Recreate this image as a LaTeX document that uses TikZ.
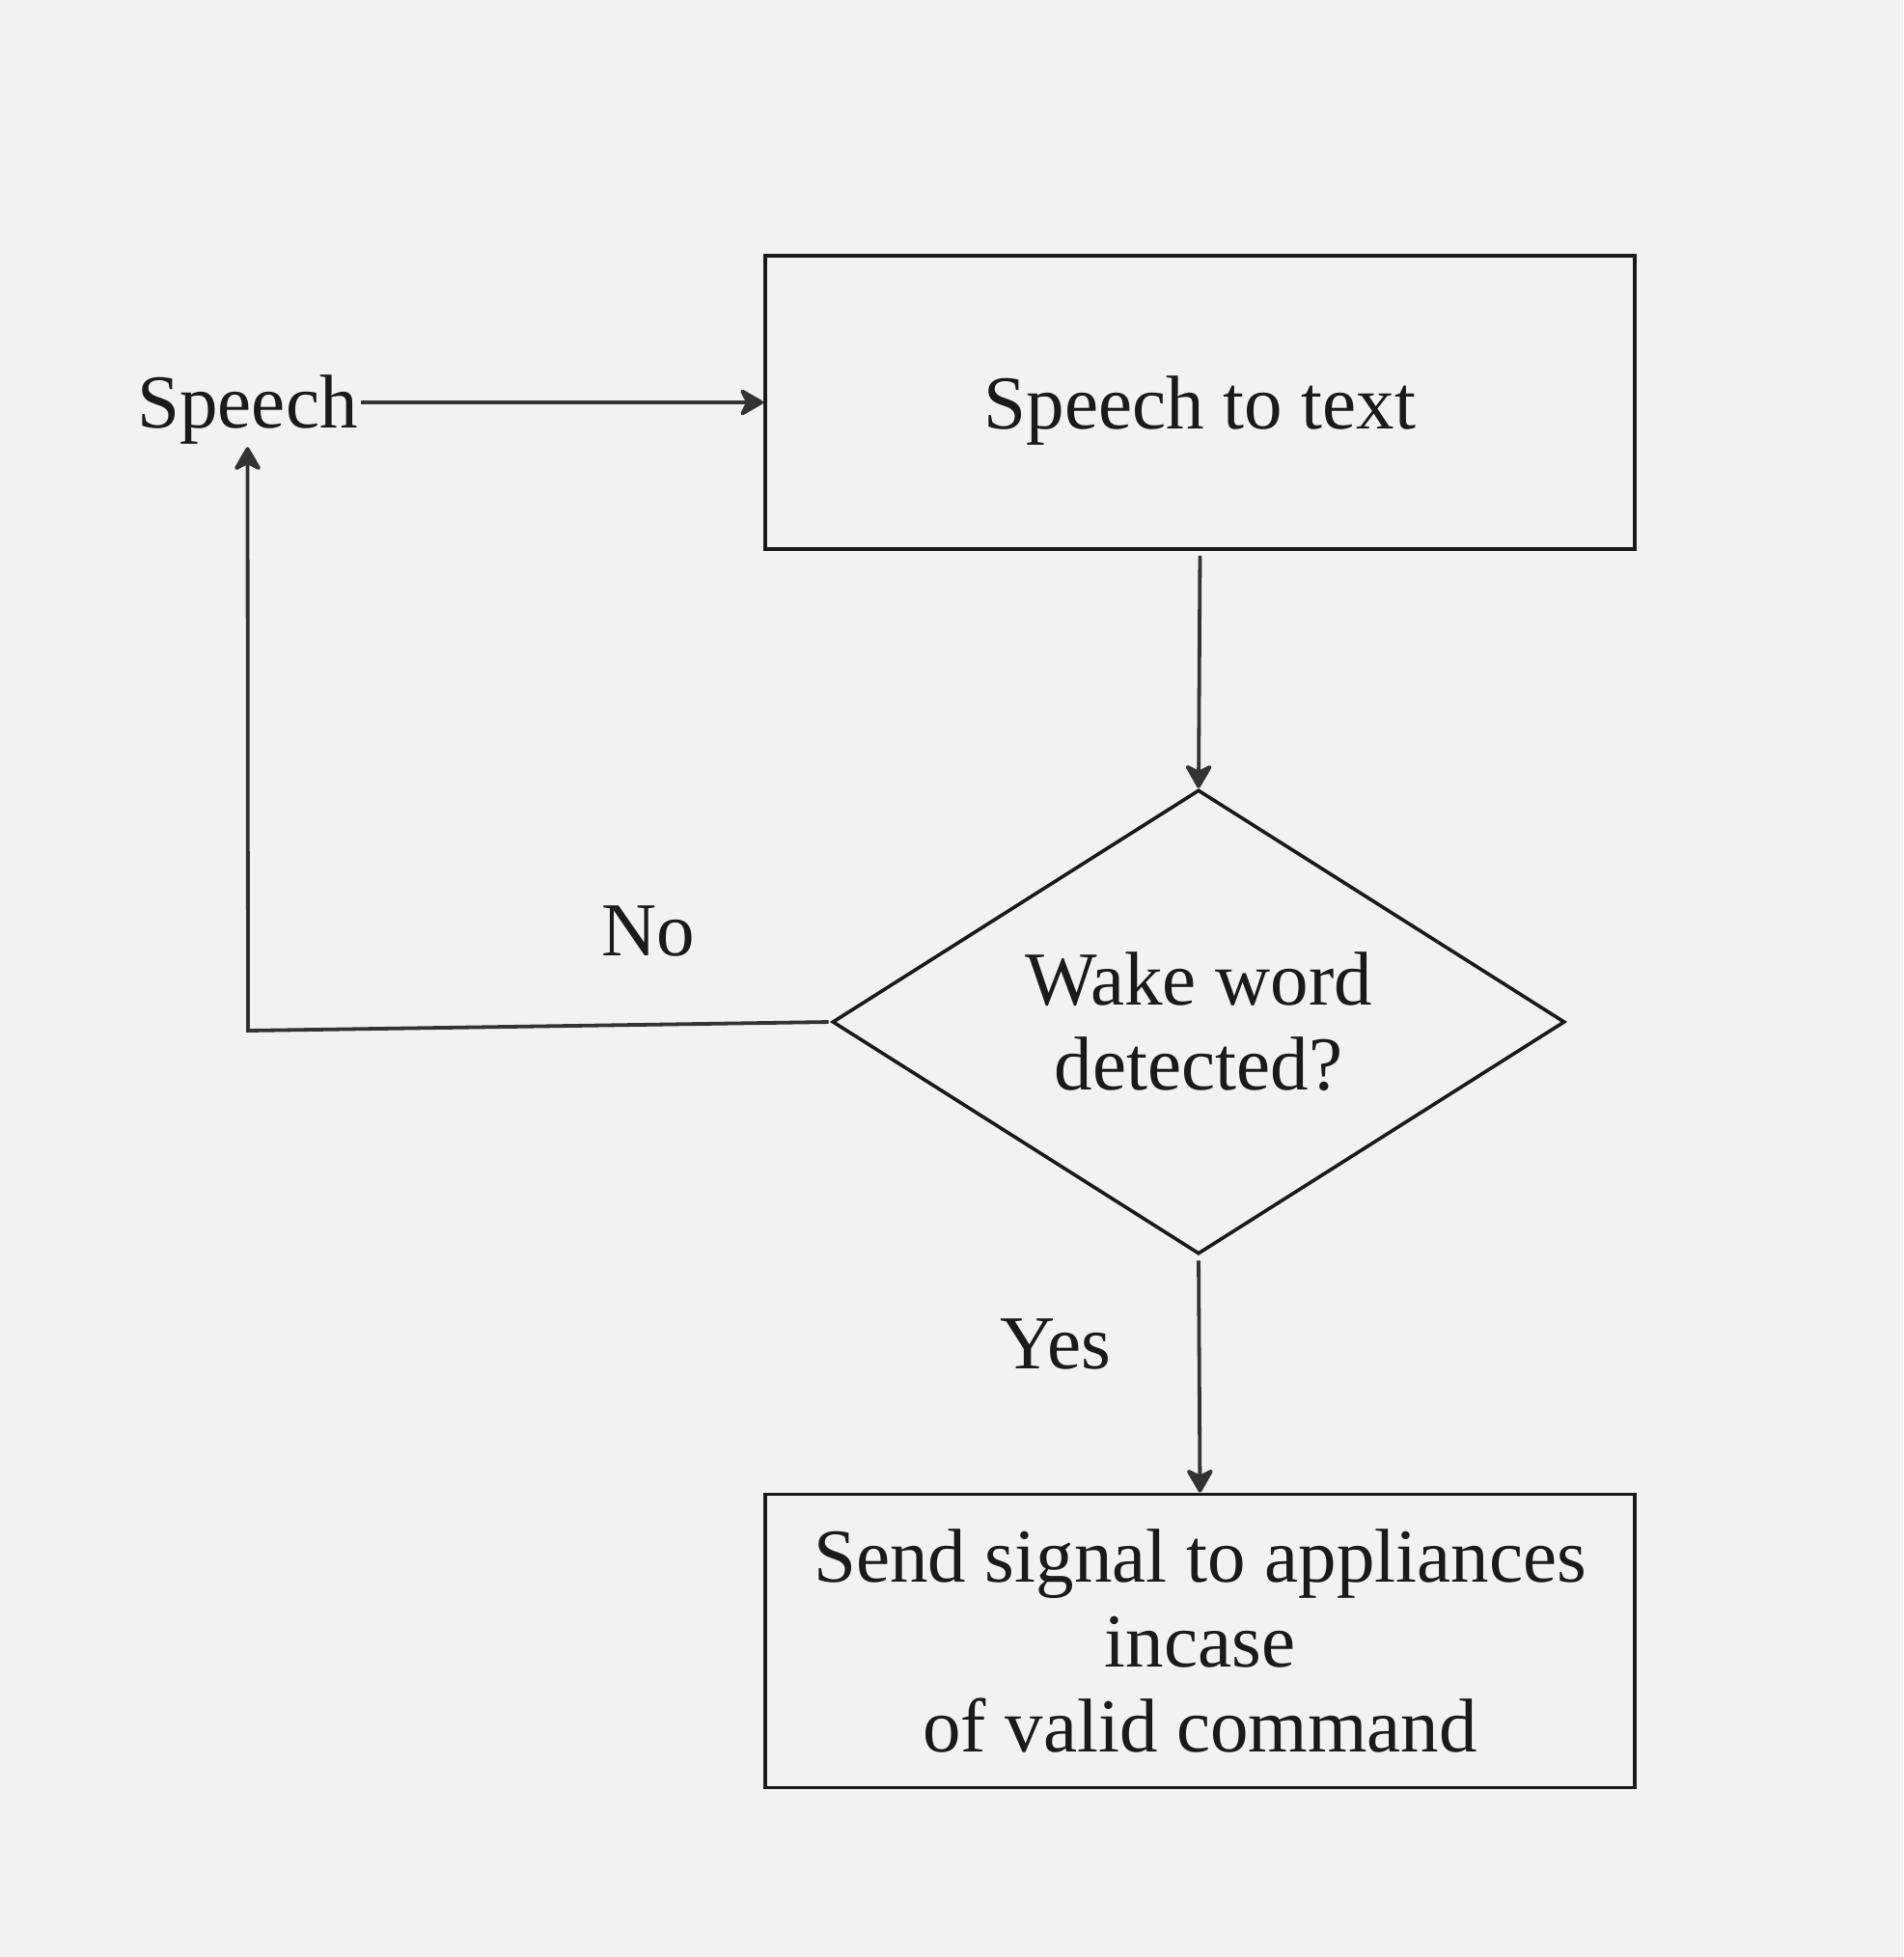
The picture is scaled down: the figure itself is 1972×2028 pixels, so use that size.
\documentclass[tikz,border=0pt]{standalone}
\usepackage{fontspec}
\setmainfont{Liberation Serif}
\usetikzlibrary{shapes.geometric,arrows.meta}
\definecolor{bg}{HTML}{F2F2F2}
\definecolor{boxline}{HTML}{1A1A1A}
\definecolor{arrline}{HTML}{333333}
\definecolor{txt}{HTML}{1A1A1A}
\tikzset{
  lbl/.style={font=\fontsize{39.5pt}{44pt}\selectfont, text=txt, inner sep=1.5pt},
  procbox/.style={lbl, draw=boxline, line width=1.9pt, rectangle, align=center,
    minimum width=450.5pt, minimum height=152pt, inner sep=0pt},
  decision/.style={lbl, draw=boxline, line width=1.8pt, diamond, align=center,
    minimum width=379.5pt, minimum height=240.5pt, inner sep=0pt, aspect=1.578},
  arr/.style={draw=arrline, line width=1.9pt,
    -{Stealth[length=14pt, width=16pt, inset=4pt, round]}},
}
\begin{document}
\begin{tikzpicture}[x=0.5pt, y=-0.5pt]
  \fill[bg] (0,0) rectangle (1972,2028);
  \useasboundingbox (0,0) rectangle (1972,2028);
  \node[procbox, text depth=0pt] (stt) at (1243.5,417) {Speech to text};
  \node[lbl, anchor=base] (speech) at (256.5,443) {Speech};
  \node[decision] (dia) at (1242,1059) {Wake word\\detected?};
  \node[procbox] (send) at (1243.5,1700.5) {Send signal to appliances\\incase\\of valid command};
  \node[lbl, anchor=base] (no) at (672,990) {No};
  \node[lbl, anchor=base] (yes) at (1094,1418) {Yes};
  \coordinate (corner) at (257,1068);
  \draw[arr] (speech.east |- stt.west) -- (stt.west);
  \draw[arr, shorten <=2.5pt] (stt.south) -- (dia.north);
  \draw[arr, shorten <=2.5pt] (dia.south) -- (send.north);
  \draw[arr, shorten <=1pt] (dia.west) -- (corner) -- (speech.south);
\end{tikzpicture}
\end{document}
